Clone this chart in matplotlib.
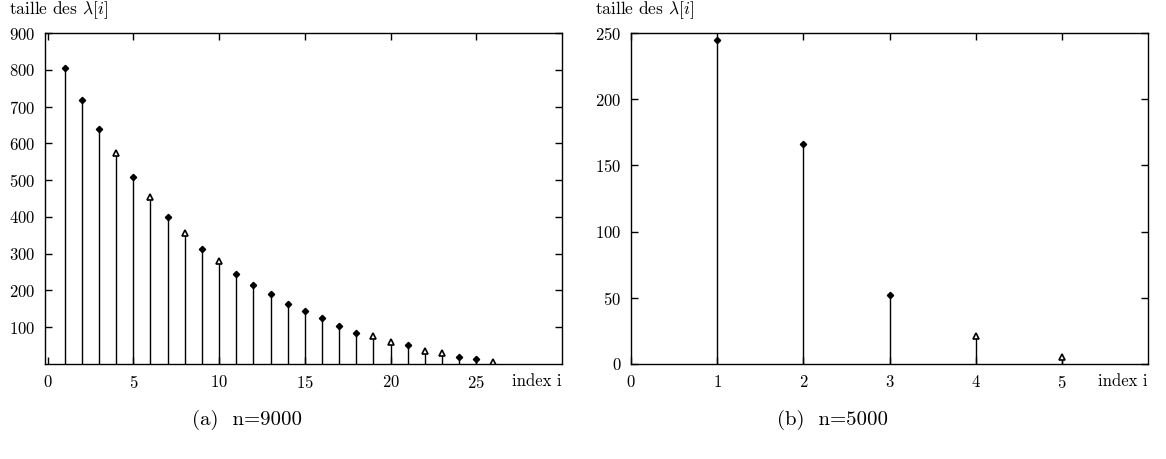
import matplotlib.pyplot as plt

plt.rcParams['font.family'] = ['cmr10', 'DejaVu Serif']
plt.rcParams['mathtext.fontset'] = 'cm'
plt.rcParams['axes.formatter.use_mathtext'] = True

# === DONNÉES ===
idx_a = list(range(1, 27))
lam_a = [805, 718, 640, 573, 509, 454, 399, 355, 312, 280, 246, 216, 189,
         163, 144, 124, 103, 85, 76, 61, 51, 36, 29, 20, 14, 5]
open_a = [4, 6, 8, 10, 19, 20, 22, 23, 26]

idx_b = [1, 2, 3, 4, 5]
lam_b = [245, 166, 52, 21, 5]
open_b = [4, 5]

xticks_a = [0, 5, 10, 15, 20, 25]
yticks_a = [100, 200, 300, 400, 500, 600, 700, 800, 900]
xticks_b = [0, 1, 2, 3, 4, 5]
yticks_b = [0, 50, 100, 150, 200, 250]

fig = plt.figure(figsize=(11.66, 4.59), dpi=100)
ax_a = fig.add_axes([0.0386, 0.207, 0.4434, 0.7211])
ax_b = fig.add_axes([0.5412, 0.207, 0.4434, 0.7211])


def stems(ax, x, y, opened):
    ax.vlines(x, 0, y, colors='black', lw=1.0)
    closed = [(xi, yi) for xi, yi in zip(x, y) if xi not in opened]
    op = [(xi, yi) for xi, yi in zip(x, y) if xi in opened]
    ax.plot([p[0] for p in closed], [p[1] for p in closed], 'D', color='black', ms=3.2)
    ax.plot([p[0] for p in op], [p[1] for p in op], '^', mfc='white', mec='black', mew=1.2, ms=5)


stems(ax_a, idx_a, lam_a, open_a)
ax_a.set_xlim(-0.15, 30)
ax_a.set_ylim(0, 900)
ax_a.set_xticks(xticks_a)
ax_a.set_yticks(yticks_a)

stems(ax_b, idx_b, lam_b, open_b)
ax_b.set_xlim(0, 6)
ax_b.set_ylim(0, 250)
ax_b.set_xticks(xticks_b)
ax_b.set_yticks(yticks_b)

for ax, cap in [(ax_a, "(a)  n=9000"), (ax_b, "(b)  n=5000")]:
    ax.tick_params(direction='in', top=True, right=True, length=5, width=1,
                   labelsize=12, pad=7)
    for s in ax.spines.values():
        s.set_linewidth(1.0)
    ax.text(1.0, -0.03, "index i", transform=ax.transAxes, ha='right', va='top', fontsize=12)
    ax.text(-0.07, 1.035, r"taille des $\lambda[i]$", transform=ax.transAxes,
            ha='left', va='bottom', fontsize=12.5)
    ax.text(0.39, -0.14, cap, transform=ax.transAxes, ha='center', va='top', fontsize=15)

fig.savefig("out.png", dpi=100)
